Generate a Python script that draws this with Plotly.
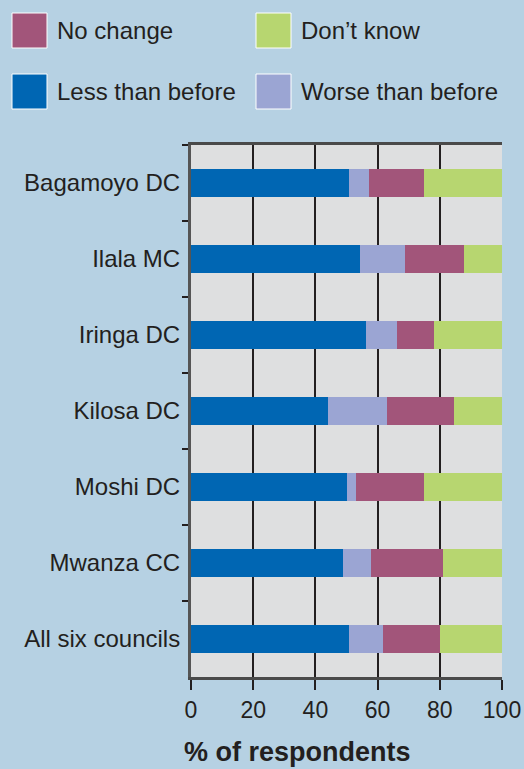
import plotly.graph_objects as go

councils = ["Bagamoyo DC", "Ilala MC", "Iringa DC", "Kilosa DC", "Moshi DC", "Mwanza CC", "All six councils"]
less_than_before = [50.7, 54.2, 56.2, 44.0, 50.1, 48.8, 50.7]
worse_than_before = [6.4, 14.5, 9.9, 18.9, 2.9, 9.0, 10.9]
no_change = [17.7, 19.2, 11.9, 21.8, 21.8, 23.1, 18.6]
dont_know = [25.2, 12.1, 22.0, 15.3, 25.2, 19.1, 19.8]

x_ticks = [0, 20, 40, 60, 80, 100]

series = [
    ("Less than before", less_than_before, "#0066B3"),
    ("Worse than before", worse_than_before, "#9BA5D3"),
    ("No change", no_change, "#A2557A"),
    ("Don\u2019t know", dont_know, "#B7D670"),
]

FONT = "Liberation Sans, Arial, sans-serif"
fig = go.Figure()
for name, vals, col in series:
    fig.add_trace(go.Bar(
        y=councils, x=vals, name=name, orientation="h",
        marker=dict(color=col, line=dict(width=0)),
        width=0.38, showlegend=False,
    ))

# custom legend (2x2 grid)
legend_layout = [
    ("No change", 0, 0), ("Don\u2019t know", 0, 1),
    ("Less than before", 1, 0), ("Worse than before", 1, 1),
]
colors = {n: c for n, _, c in series}
W, H = 524, 769
L, R, T, B = 191, 22, 145, 92
PW, PH = W - L - R, H - T - B
for name, row, colm in legend_layout:
    x0 = 12 + colm * 244
    y0 = 13 + row * 61
    fig.add_shape(type="rect", xref="paper", yref="paper",
                  x0=(x0 - L) / PW, x1=(x0 + 35 - L) / PW,
                  y0=1 + (T - y0) / PH, y1=1 + (T - y0 - 35) / PH,
                  fillcolor=colors[name], line=dict(color="white", width=1))
    fig.add_annotation(xref="paper", yref="paper",
                       x=(x0 + 43 - L) / PW, y=1 + (T - y0 - 17.5) / PH,
                       text=name, showarrow=False, xanchor="left", yanchor="middle",
                       font=dict(size=24, color="#231F20", family=FONT))

fig.add_annotation(xref="paper", yref="paper", x=(182 - L) / PW, y=-(752 - (H - B)) / PH,
                   text="<b>% of respondents</b>", showarrow=False, xanchor="left", yanchor="middle",
                   font=dict(size=27, color="#231F20", family=FONT))

fig.update_layout(
    width=W, height=H,
    barmode="stack",
    margin=dict(l=L, r=R, t=T, b=B, autoexpand=False),
    paper_bgcolor="#B6D1E3",
    plot_bgcolor="#DEDFE0",
    font=dict(family=FONT, color="#231F20", size=20),
    bargap=0.62,
)
fig.update_xaxes(
    range=[0, 100], tickvals=x_ticks, ticktext=[str(v) for v in x_ticks],
    showgrid=True, gridcolor="#231F20", gridwidth=2,
    showline=True, linecolor="#4A4A4A", linewidth=3, mirror=True,
    ticks="outside", ticklen=10, tickwidth=1.5, tickcolor="#231F20",
    tickfont=dict(size=23, color="#231F20"), zeroline=False, automargin=False,
)
fig.update_yaxes(
    autorange="reversed", tickson="boundaries",
    showgrid=False, showline=True, linecolor="#555555", linewidth=3,
    ticks="outside", ticklen=6, tickwidth=2, tickcolor="#231F20",
    tickfont=dict(size=24, color="#231F20"), ticklabelstandoff=3, automargin=False,
)

fig.write_html("out.html")
